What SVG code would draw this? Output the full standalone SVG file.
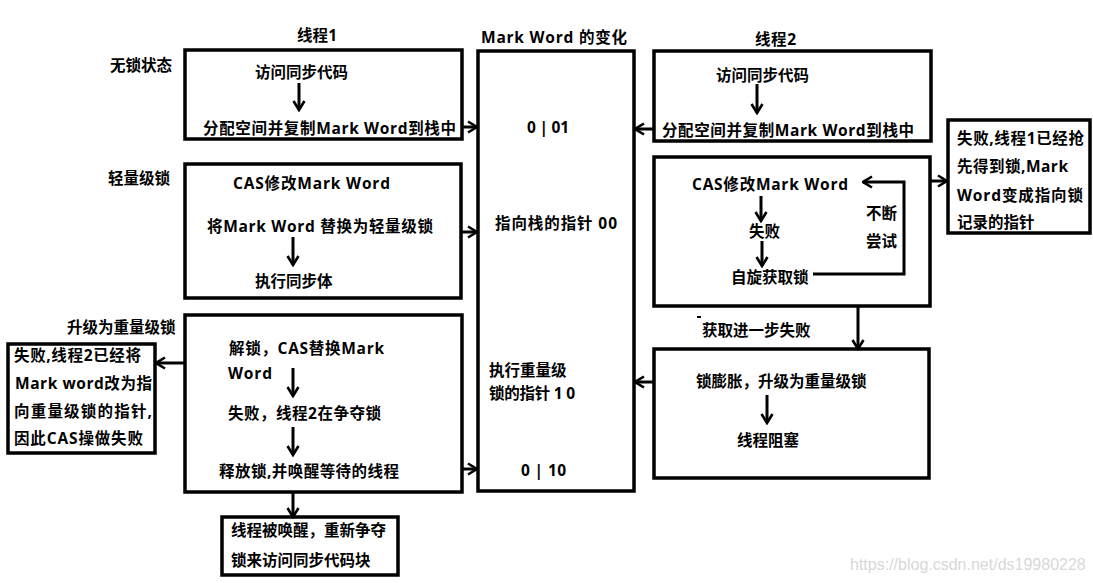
<svg xmlns="http://www.w3.org/2000/svg" width="1093" height="583" viewBox="0 0 1093 583">
<defs>
<marker id="ah" viewBox="0 0 12 14" refX="10.5" refY="7" markerWidth="12" markerHeight="14" markerUnits="userSpaceOnUse" orient="auto">
<path d="M1.5,1.5 L10.5,7 L1.5,12.5" fill="none" stroke="#000" stroke-width="2.6"/>
</marker>
</defs>
<style>
.b{fill:#fff;stroke:#000;stroke-width:3.5}
.t{font-family:"Open Sans","Noto Sans CJK SC","Microsoft YaHei",sans-serif;font-size:15.5px;font-weight:bold;fill:#000}
.c{stroke:#000;stroke-width:3;fill:none;marker-end:url(#ah)}
.w{font-family:"Liberation Sans",Arial,sans-serif;font-size:16px;fill:#d8d8d8}
</style>
<rect width="1093" height="583" fill="#fff"/>

<g id="labels">
<text class="t" x="297" y="41" textLength="40">线程1</text>
<text class="t" x="481" y="43" textLength="146">Mark Word 的变化</text>
<text class="t" x="755" y="45" textLength="41">线程2</text>
<text class="t" x="110" y="71">无锁状态</text>
<text class="t" x="108" y="184">轻量级锁</text>
<text class="t" x="67" y="333">升级为重量级锁</text>
</g>

<g id="t1-nolock">
<rect class="b" x="185" y="50" width="277" height="89"/>
<text class="t" x="255" y="78">访问同步代码</text>
<text class="t" x="203" y="134" textLength="253">分配空间并复制Mark Word到栈中</text>
</g>

<g id="markword">
<rect class="b" x="478" y="51" width="156" height="440"/>
<text class="t" x="527" y="133" textLength="42">0 | 01</text>
<text class="t" x="495" y="229" textLength="122">指向栈的指针 00</text>
<text class="t" x="489" y="376">执行重量级</text>
<text class="t" x="489" y="399" textLength="86">锁的指针 1 0</text>
<text class="t" x="521" y="476" textLength="45">0 | 10</text>
</g>

<g id="t2-nolock">
<rect class="b" x="654" y="51" width="277" height="90"/>
<text class="t" x="716" y="81">访问同步代码</text>
<text class="t" x="662" y="136" textLength="252">分配空间并复制Mark Word到栈中</text>
</g>

<g id="t2-fail-note">
<rect class="b" x="948" y="120" width="142" height="113"/>
<text class="t" x="957" y="144" textLength="127">失败,线程1已经抢</text>
<text class="t" x="957" y="172" textLength="111">先得到锁,Mark</text>
<text class="t" x="957" y="201" textLength="126">Word变成指向锁</text>
<text class="t" x="957" y="228">记录的指针</text>
</g>

<g id="t1-light">
<rect class="b" x="185" y="164" width="276" height="134"/>
<text class="t" x="233" y="189" textLength="157">CAS修改Mark Word</text>
<text class="t" x="207" y="232" textLength="226">将Mark Word 替换为轻量级锁</text>
<text class="t" x="255" y="287">执行同步体</text>
</g>

<g id="t2-light">
<rect class="b" x="654" y="157" width="276" height="149"/>
<text class="t" x="692" y="190" textLength="156">CAS修改Mark Word</text>
<text class="t" x="749" y="237">失败</text>
<text class="t" x="731" y="283">自旋获取锁</text>
<text class="t" x="866" y="219">不断</text>
<text class="t" x="866" y="247">尝试</text>
</g>

<g id="further-fail">
<rect x="697" y="316" width="4" height="2" fill="#000"/>
<text class="t" x="702" y="336">获取进一步失败</text>
</g>

<g id="t2-heavy">
<rect class="b" x="654" y="349" width="275" height="129"/>
<text class="t" x="696" y="387">锁膨胀，升级为重量级锁</text>
<text class="t" x="737" y="446">线程阻塞</text>
</g>

<g id="t1-heavy">
<rect class="b" x="185" y="315" width="277" height="177"/>
<text class="t" x="229" y="354" textLength="155">解锁，CAS替换Mark</text>
<text class="t" x="228" y="379" textLength="44">Word</text>
<text class="t" x="228" y="419" textLength="153">失败，线程2在争夺锁</text>
<text class="t" x="219" y="477" textLength="180">释放锁,并唤醒等待的线程</text>
</g>

<g id="t1-fail-note">
<rect class="b" x="8" y="344" width="147" height="109"/>
<text class="t" x="14" y="361" textLength="127">失败,线程2已经将</text>
<text class="t" x="15" y="389" textLength="137">Mark word改为指</text>
<text class="t" x="14" y="417" textLength="138">向重量级锁的指针,</text>
<text class="t" x="14" y="444" textLength="129">因此CAS操做失败</text>
</g>

<g id="woken">
<rect class="b" x="222" y="517" width="176" height="58"/>
<text class="t" x="231" y="536">线程被唤醒，重新争夺</text>
<text class="t" x="231" y="566">锁来访问同步代码块</text>
</g>

<g id="connectors">
<line class="c" x1="299" y1="83" x2="299" y2="110"/>
<line class="c" x1="462" y1="127" x2="477" y2="127"/>
<line class="c" x1="757" y1="84" x2="757" y2="113"/>
<line class="c" x1="654" y1="129" x2="635" y2="129"/>
<line class="c" x1="930" y1="181" x2="947" y2="181"/>
<line class="c" x1="293" y1="237" x2="293" y2="265"/>
<line class="c" x1="461" y1="232" x2="477" y2="232"/>
<line class="c" x1="761" y1="196" x2="761" y2="221"/>
<line class="c" x1="762" y1="241" x2="762" y2="266"/>
<polyline class="c" points="813,274 904,274 904,182 863,182"/>
<line class="c" x1="858" y1="306" x2="858" y2="349"/>
<line class="c" x1="767" y1="395" x2="767" y2="423"/>
<line class="c" x1="654" y1="382" x2="635" y2="382"/>
<line class="c" x1="293" y1="368" x2="293" y2="396"/>
<line class="c" x1="293" y1="427" x2="293" y2="455"/>
<line class="c" x1="462" y1="469" x2="477" y2="469"/>
<line class="c" x1="184" y1="363" x2="156" y2="363"/>
<line class="c" x1="293" y1="493" x2="293" y2="517"/>
</g>

<text class="w" x="850" y="570">https://blog.csdn.net/ds19980228</text>
</svg>
